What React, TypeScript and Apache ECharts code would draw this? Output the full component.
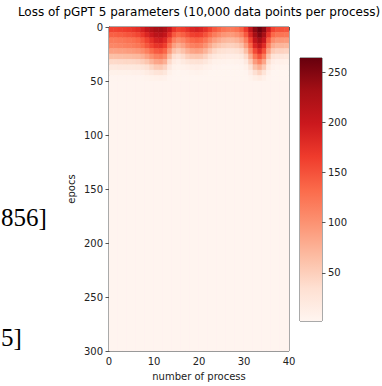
import React, { useEffect, useRef } from "react";
import * as echarts from "echarts";

// process index (column start), 40 processes
const processStarts = [
  0, 1, 2, 3, 4, 5, 6, 7, 8, 9, 10, 11, 12, 13, 14, 15, 16, 17, 18, 19,
  20, 21, 22, 23, 24, 25, 26, 27, 28, 29, 30, 31, 32, 33, 34, 35, 36, 37, 38, 39,
];

// epoch bins
const epochBinStart = [0, 5, 10, 15, 20, 25, 30, 35, 40, 45, 50];
const epochBinEnd = [5, 10, 15, 20, 25, 30, 35, 40, 45, 50, 300];

// loss per epoch bin, one value per process
const loss0to5 = [160,160,163,165,168,172,178,190,205,218,228,230,222,200,172,160,165,175,185,190,185,175,160,145,135,125,120,120,126,140,168,205,245,262,245,195,160,150,150,148];
const loss5to10 = [140,140,142,145,148,152,158,170,185,200,212,215,205,178,145,132,140,152,162,166,162,150,134,118,108,98,94,94,100,114,145,185,230,250,228,172,134,124,124,122];
const loss10to15 = [118,118,120,122,125,128,134,145,160,176,190,194,182,150,115,102,110,124,134,138,134,122,104,90,80,72,68,68,73,85,115,158,208,232,204,142,104,95,95,93];
const loss15to20 = [110,110,112,114,116,118,122,132,146,160,172,176,164,126,90,78,88,104,114,118,114,100,82,66,58,52,48,48,52,62,92,136,186,210,180,118,80,72,72,70];
const loss20to25 = [88,88,89,90,92,94,97,104,116,132,144,148,136,96,62,52,62,76,86,90,86,74,56,42,35,31,28,28,31,38,64,108,156,182,150,88,54,47,47,45];
const loss25to30 = [64,64,65,66,67,68,70,76,88,102,114,118,106,66,36,28,38,50,56,58,56,46,32,22,18,16,14,14,15,19,40,78,124,150,118,60,30,25,25,23];
const loss30to35 = [40,40,41,42,42,43,45,50,58,72,84,88,76,40,17,12,19,26,30,32,30,24,15,9,7,6,5,5,6,8,20,52,92,114,84,36,14,10,10,9];
const loss35to40 = [21,21,22,22,22,23,24,27,33,44,54,56,46,20,7,5,7,10,13,14,13,9,6,3,3,2,2,2,2,3,9,30,62,78,54,18,6,4,4,4];
const loss40to45 = [9,9,9,9,9,10,10,12,16,22,28,30,24,9,3,2,3,4,5,6,5,4,2,2,2,2,2,2,2,2,3,14,34,46,28,8,2,2,2,2];
const loss45to50 = [3,3,3,3,3,3,3,4,5,7,9,10,8,3,2,2,2,2,2,2,2,2,2,2,2,2,2,2,2,2,2,5,12,16,10,3,2,2,2,2];
const loss50to300 = [3,3,3,3,3,3,3,3,3,3,3,3,3,3,3,3,3,3,3,3,3,3,3,3,3,3,3,3,3,3,3,3,3,3,3,3,3,3,3,3];

const lossRows = [loss0to5, loss5to10, loss10to15, loss15to20, loss20to25, loss25to30, loss30to35, loss35to40, loss40to45, loss45to50, loss50to300];

const xTicks = [0, 10, 20, 30, 40];
const yTicks = [0, 50, 100, 150, 200, 250, 300];
const colorbarTicks = [50, 100, 150, 200, 250];
const colorMin = 2;
const colorMax = 264;

const REDS = ["#fff5f0", "#fee0d2", "#fcbba1", "#fc9272", "#fb6a4a", "#ef3b2c", "#cb181d", "#a50f15", "#67000d"];

export default function App() {
  const ref = useRef<HTMLDivElement>(null);
  useEffect(() => {
    if (!ref.current) return;
    const chart = echarts.init(ref.current, null, { renderer: "svg" });
    const data: number[][] = [];
    lossRows.forEach((row, r) => {
      row.forEach((v, c) => {
        data.push([processStarts[c], processStarts[c] + 1, epochBinStart[r], epochBinEnd[r], v]);
      });
    });
    const font = "DejaVu Sans";
    const labelColor = "#222";
    const lineColor = "#555";
    chart.setOption({
      animation: false,
      backgroundColor: "#fff",
      textStyle: { fontFamily: font },
      grid: [
        { left: 109, top: 27, width: 180, height: 326, show: true, borderColor: lineColor, borderWidth: 1, backgroundColor: "transparent" },
        { left: 300, top: 58, width: 22, height: 263, show: true, borderColor: lineColor, borderWidth: 1 },
      ],
      xAxis: [
        {
          gridIndex: 0, type: "value", min: xTicks[0], max: xTicks[xTicks.length - 1], interval: 10,
          axisLine: { show: true, lineStyle: { color: lineColor } },
          axisTick: { show: true, length: 3.5, lineStyle: { color: lineColor } },
          axisLabel: { fontSize: 10, color: labelColor, fontFamily: font, margin: 5 },
          splitLine: { show: false },
          name: "number of process", nameLocation: "middle", nameGap: 19,
          nameTextStyle: { fontSize: 10, color: labelColor, fontFamily: font },
        },
        { gridIndex: 1, type: "category", data: [""], show: false },
      ],
      yAxis: [
        {
          gridIndex: 0, type: "value", inverse: true, min: yTicks[0], max: yTicks[yTicks.length - 1], interval: 50,
          axisLine: { show: true, lineStyle: { color: lineColor } },
          axisTick: { show: true, length: 3.5, lineStyle: { color: lineColor } },
          axisLabel: { fontSize: 10, color: labelColor, fontFamily: font, margin: 6 },
          splitLine: { show: false },
          name: "epocs", nameLocation: "middle", nameGap: 33, nameRotate: 90,
          nameTextStyle: { fontSize: 10, color: labelColor, fontFamily: font },
        },
        {
          gridIndex: 1, type: "value", min: colorMin, max: colorMax, position: "right",
          axisLine: { show: false },
          axisTick: { show: true, length: 3.5, lineStyle: { color: lineColor }, customValues: colorbarTicks },
          axisLabel: { fontSize: 10, color: labelColor, fontFamily: font, margin: 6, customValues: colorbarTicks },
          splitLine: { show: false },
        },
      ],
      visualMap: {
        show: false, type: "continuous", min: colorMin, max: colorMax, dimension: 4, seriesIndex: 0,
        inRange: { color: REDS },
      },
      series: [
        {
          type: "custom",
          xAxisIndex: 0, yAxisIndex: 0,
          encode: { x: [0, 1], y: [2, 3] },
          clip: true,
          data,
          renderItem: (params: any, api: any) => {
            const p0 = api.coord([api.value(0), api.value(2)]);
            const p1 = api.coord([api.value(1), api.value(3)]);
            const color = api.visual("color");
            return {
              type: "rect",
              shape: {
                x: Math.min(p0[0], p1[0]), y: Math.min(p0[1], p1[1]),
                width: Math.abs(p1[0] - p0[0]), height: Math.abs(p1[1] - p0[1]),
              },
              style: { fill: color, stroke: color, lineWidth: 0.6 },
            };
          },
        },
        {
          type: "bar", xAxisIndex: 1, yAxisIndex: 1, data: [colorMax], barWidth: "100%",
          itemStyle: {
            color: new echarts.graphic.LinearGradient(0, 1, 0, 0, REDS.map((c, i) => ({ offset: i / (REDS.length - 1), color: c }))),
          },
          silent: true,
        },
      ],
      graphic: [
        {
          type: "text", x: 199, y: 12, z: 10,
          style: { text: "Loss of pGPT 5 parameters (10,000 data points per process)", font: `12px "${font}"`, fill: "#000", align: "center", verticalAlign: "middle" },
        },
        {
          type: "text", x: 1, y: 217, z: 10,
          style: { text: "856]", font: '25px "Liberation Serif"', fill: "#000", align: "left", verticalAlign: "middle" },
        },
        {
          type: "text", x: 1, y: 337, z: 10,
          style: { text: "5]", font: '25px "Liberation Serif"', fill: "#000", align: "left", verticalAlign: "middle" },
        },
      ],
    });
    return () => chart.dispose();
  }, []);
  return (
    <div
      ref={ref}
      style={{ position: "fixed", left: 0, top: 0, width: 382, height: 386, background: "#fff" }}
    />
  );
}
